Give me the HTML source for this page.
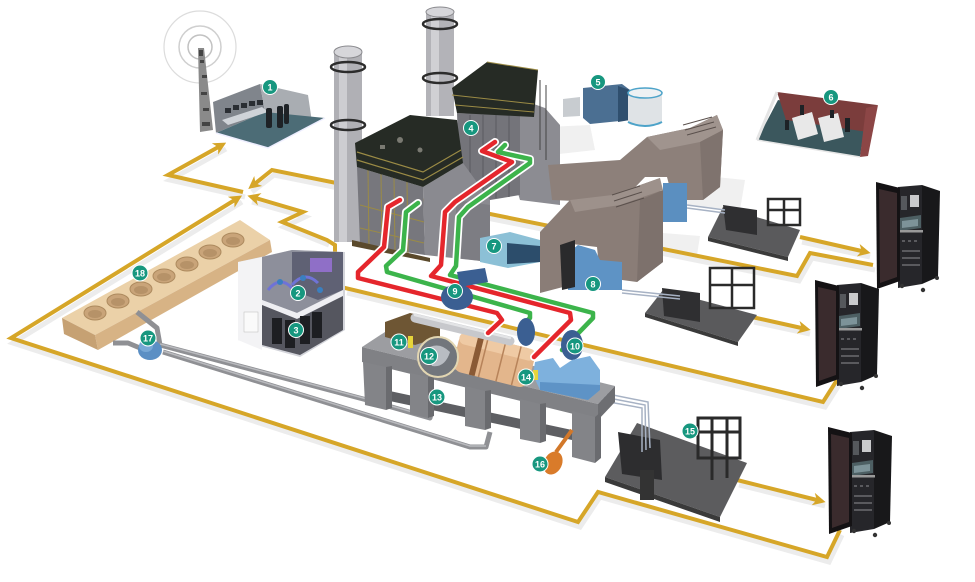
<!DOCTYPE html>
<html><head><meta charset="utf-8">
<style>
html,body{margin:0;padding:0;background:#fff;}
svg{display:block;}
.b circle{fill:#17977f;stroke:#fff;stroke-width:1}
.b text{fill:#fff;font-family:"Liberation Sans",sans-serif;font-size:9px;font-weight:bold;text-anchor:middle}
</style></head><body>
<svg width="975" height="582" viewBox="0 0 975 582" xmlns="http://www.w3.org/2000/svg">
<defs>
<marker id="ar" markerWidth="3.2" markerHeight="3.2" refX="2" refY="1.6" orient="auto" markerUnits="strokeWidth">
<path d="M0,0 L3.2,1.6 L0,3.2 L0.9,1.6 z" fill="#d6a628"/>
</marker>
<g id="cab">
<polygon points="922,185 940,191 938,277 922,284" fill="#18181a"/>
<polygon points="898,187 922,185 922,284 898,288" fill="#26262a"/>
<rect x="910" y="195" width="9" height="12" fill="#c9cacc"/>
<rect x="901" y="196" width="6" height="14" fill="#55585c"/>
<polygon points="900,218 921,215 921,228 900,231" fill="#4d5f63"/>
<polygon points="902,221 918,219 918,226 902,228" fill="#7d9399"/>
<rect x="878" y="230" width="45" height="2.5" fill="#9a9a9a"/>
<g fill="#5a5a5e"><rect x="902" y="240" width="3" height="2"/><rect x="908" y="240" width="3" height="2"/><rect x="914" y="240" width="3" height="2"/><rect x="902" y="250" width="18" height="2"/><rect x="902" y="257" width="18" height="2"/><rect x="902" y="264" width="18" height="2"/></g>
<polygon points="876,182 900,188 900,281 877,289" fill="#141214"/>
<polygon points="879,189 897,193 897,277 880,283" fill="#3a2b2d"/>
<circle cx="902" cy="286" r="2.2" fill="#333"/><circle cx="923" cy="290" r="2.2" fill="#333"/><circle cx="937" cy="278" r="2" fill="#333"/>
</g>
</defs>

<!-- ground shadows -->
<g fill="#f0f0f0">
<polygon points="547,127 590,125 595,150 550,155"/>
<polygon points="677,173 745,180 740,210 680,205"/>
<polygon points="663,233 700,236 697,255 663,252"/>
</g>

<!-- gold line shadows -->
<g fill="none" stroke="#ececec" stroke-width="5" transform="translate(2,5)">
<polyline points="243,192 168,175 224,144"/>
<polyline points="840,530 827,557 598,492 578,522 11,338 240,197"/>
<polyline points="873,265 810,253 797,276 272,170 250,187"/>
<polyline points="837,380 823,402 345,288"/>
<polyline points="327,240 282,222 303,212 250,197"/>
<polyline points="800,237 868,252"/>
<polyline points="752,317 808,329"/>
<polyline points="737,480 823,501"/>
</g>
<!-- gold lines -->
<g fill="none" stroke="#d6a628" stroke-width="4" stroke-linejoin="miter">
<polyline points="243,192 168,175 222,145" marker-end="url(#ar)"/>
<polyline points="840,530 827,557 598,492 578,522 11,338 238,198" marker-end="url(#ar)"/>
<polyline points="873,265 810,253 797,276 272,170 252,186" marker-end="url(#ar)"/>
<polyline points="837,380 823,402 345,288 335,283 335,245 327,240 282,222 303,212 252,197" marker-end="url(#ar)"/>
<polyline points="800,237 866,252" marker-end="url(#ar)"/>
<polyline points="752,317 806,329" marker-end="url(#ar)"/>
<polyline points="737,480 821,501" marker-end="url(#ar)"/>
</g>

<!-- antenna -->
<g fill="none">
<circle cx="200" cy="47" r="36" stroke="#dcdcdc" stroke-width="1.2"/>
<circle cx="200" cy="47" r="21" stroke="#cfcfcf" stroke-width="1.5"/>
<circle cx="200" cy="47" r="12" stroke="#c2c2c2" stroke-width="1.5"/>
</g>
<polygon points="198,48 204,48 213,130 200,132" fill="#8a8a8a"/>
<g fill="#444"><rect x="200" y="60" width="4" height="3"/><rect x="202" y="75" width="5" height="3"/><rect x="201" y="92" width="6" height="3"/><rect x="203" y="108" width="6" height="3"/><rect x="202" y="122" width="8" height="4"/><rect x="199" y="50" width="4" height="6"/></g>

<!-- control room 1 -->
<polygon points="213,102 260,84 265,112 216,133" fill="#80858c"/>
<polygon points="260,84 308,95 312,122 265,112" fill="#a9adb2"/>
<polygon points="216,133 265,112 325,118 268,148" fill="#4c6c76"/>
<polyline points="216,133 268,148 325,118" fill="none" stroke="#eef" stroke-width="1.5"/>
<g fill="#2a2e33"><rect x="225" y="108" width="6" height="5"/><rect x="233" y="105" width="6" height="5"/><rect x="241" y="103" width="6" height="5"/><rect x="249" y="101" width="6" height="5"/><rect x="257" y="100" width="6" height="5"/></g>
<polygon points="222,120 262,107 268,112 228,125" fill="#cfd3d8"/>
<g fill="#1e2226"><rect x="266" y="108" width="6" height="20" rx="2"/><rect x="277" y="106" width="6" height="22" rx="2"/><rect x="284" y="104" width="5" height="20" rx="2"/></g>

<!-- item 5 -->
<polygon points="563,99 580,97 580,116 563,117" fill="#c8ccd0"/>
<polygon points="583,88 622,84 630,90 630,120 590,124 583,118" fill="#4b6f92"/>
<polygon points="618,86 630,90 630,120 618,122" fill="#2f4f6e"/>
<rect x="628" y="93" width="34" height="32" rx="4" fill="#dfe3e6"/>
<ellipse cx="645" cy="93" rx="17" ry="5" fill="#eef1f3" stroke="#4da3c9" stroke-width="1.5"/>
<path d="M628,122 Q645,130 662,122" stroke="#4da3c9" stroke-width="2" fill="none"/>

<!-- room 6 -->
<polygon points="757,140 778,100 866,116 860,157" fill="#3b575d"/>
<polygon points="777,92 877,105 868,132 786,120" fill="#7b3d3c"/>
<polygon points="866,108 878,105 868,156 860,157" fill="#8c4646"/>
<line x1="757" y1="140" x2="777" y2="92" stroke="#e5e5e5" stroke-width="3"/>
<line x1="757" y1="140" x2="860" y2="157" stroke="#e5e5e5" stroke-width="1.5"/>
<polygon points="792,118 812,112 818,134 798,140" fill="#e8e8e8"/>
<polygon points="818,118 838,113 844,137 824,142" fill="#e8e8e8"/>
<g fill="#1d2226"><rect x="785" y="120" width="4" height="10"/><rect x="800" y="105" width="4" height="10"/><rect x="845" y="118" width="5" height="14"/><rect x="830" y="110" width="4" height="8"/></g>

<!-- ACC 18 -->
<polygon points="62,318 240,220 270,240 95,335" fill="#ebd1a8"/>
<polygon points="95,335 270,240 272,252 98,350" fill="#d7b385"/>
<polygon points="62,318 95,335 98,350 64,334" fill="#c6a173"/>
<g fill="#c9a479" stroke="#ad8a5e" stroke-width="1">
<ellipse cx="233" cy="240" rx="11" ry="7"/><ellipse cx="210" cy="252" rx="11" ry="7"/><ellipse cx="187" cy="264" rx="11" ry="7"/><ellipse cx="164" cy="276" rx="11" ry="7"/><ellipse cx="141" cy="289" rx="11" ry="7"/><ellipse cx="118" cy="301" rx="11" ry="7"/><ellipse cx="95" cy="313" rx="11" ry="7"/>
</g>
<g fill="#b69268">
<ellipse cx="233" cy="241" rx="7" ry="4"/><ellipse cx="210" cy="253" rx="7" ry="4"/><ellipse cx="187" cy="265" rx="7" ry="4"/><ellipse cx="164" cy="277" rx="7" ry="4"/><ellipse cx="141" cy="290" rx="7" ry="4"/><ellipse cx="118" cy="302" rx="7" ry="4"/><ellipse cx="95" cy="314" rx="7" ry="4"/>
</g>

<!-- condenser pipes -->
<g fill="none" stroke="#8f9094" stroke-width="5" stroke-linejoin="round">
<polyline points="137,312 157,328 160,345 367,400 430,418 433,405"/>
<polyline points="163,352 470,447 486,447 490,432"/>
<polyline points="113,343 128,343 140,348"/>
</g>
<g fill="none" stroke="#b9babe" stroke-width="1.5">
<polyline points="160,344 367,399 430,417"/>
<polyline points="163,351 470,446 486,446"/>
</g>
<ellipse cx="150" cy="350" rx="12" ry="10" fill="#5b8fc4"/>
<ellipse cx="146" cy="346" rx="7" ry="6" fill="#78a8d6"/>

<!-- building 2/3 -->
<polygon points="238,262 292,250 345,252 345,330 300,357 238,340" fill="#d3d4da"/>
<polygon points="238,262 262,257 262,350 238,340" fill="#f3f3f5"/>
<polygon points="262,257 292,250 343,252 343,290 297,313 262,300" fill="#8d8f9b"/>
<polygon points="292,252 343,252 343,290 318,300 292,290" fill="#5f6174"/>
<polygon points="262,300 297,313 343,290 343,296 297,319 262,305" fill="#eeeef2"/>
<polygon points="262,305 297,319 343,296 343,330 300,355 262,345" fill="#55565f"/>
<g fill="#1d1e22"><rect x="272" y="318" width="10" height="26"/><rect x="285" y="320" width="10" height="28"/><rect x="300" y="316" width="10" height="28"/><rect x="312" y="312" width="10" height="26"/></g>
<rect x="244" y="312" width="14" height="20" fill="#fafafa" stroke="#bbb" stroke-width="0.5"/>
<path d="M268,290 Q280,275 292,288" stroke="#6f73d6" stroke-width="3" fill="none"/><path d="M292,285 Q305,270 318,283" stroke="#6f73d6" stroke-width="3" fill="none"/>
<rect x="310" y="258" width="22" height="14" fill="#8f6fc7"/>
<g fill="#3a7fc0"><circle cx="280" cy="282" r="3"/><circle cx="303" cy="278" r="3"/><circle cx="320" cy="290" r="3"/></g>

<!-- right HRSG -->
<rect x="426" y="12" width="28" height="104" fill="#b3b3b8"/>
<rect x="431" y="12" width="8" height="104" fill="#d0d0d4"/>
<ellipse cx="440" cy="12" rx="14" ry="5" fill="#d6d6da" stroke="#8a8a8e" stroke-width="1"/>
<ellipse cx="440" cy="24" rx="17" ry="5" fill="none" stroke="#2c2c2c" stroke-width="2.5"/>
<ellipse cx="440" cy="78" rx="17" ry="5" fill="none" stroke="#2c2c2c" stroke-width="2.5"/>
<polygon points="517,98 545,108 560,125 560,205 520,200 517,190" fill="#8c8c92"/>
<polygon points="457,113 520,115 520,195 460,205" fill="#74747a"/>
<g stroke="#5a5a60" stroke-width="1"><line x1="470" y1="115" x2="470" y2="202"/><line x1="483" y1="115" x2="483" y2="200"/><line x1="496" y1="115" x2="496" y2="198"/><line x1="509" y1="115" x2="509" y2="197"/></g>
<polygon points="452,88 487,62 538,70 534,117 457,113" fill="#262b25"/>
<g stroke="#9b8b45" stroke-width="1" fill="none"><polyline points="452,95 534,104"/><polyline points="455,105 534,112"/><polyline points="487,62 538,70"/></g>
<g stroke="#444" stroke-width="1"><line x1="540" y1="80" x2="540" y2="150"/><line x1="546" y1="85" x2="546" y2="160"/></g>

<!-- left HRSG -->
<rect x="334" y="52" width="28" height="190" fill="#b0b0b5"/>
<rect x="339" y="52" width="8" height="190" fill="#cdcdd1"/>
<ellipse cx="348" cy="52" rx="14" ry="6" fill="#d6d6da" stroke="#8a8a8e" stroke-width="1"/>
<ellipse cx="348" cy="67" rx="17" ry="5" fill="none" stroke="#2c2c2c" stroke-width="2.5"/>
<ellipse cx="348" cy="125" rx="17" ry="5" fill="none" stroke="#2c2c2c" stroke-width="2.5"/>
<polygon points="423,187 463,163 490,200 490,262 425,255" fill="#8a8a90"/>
<polygon points="357,167 423,187 425,255 360,245" fill="#77777d"/>
<g stroke="#9b8b45" stroke-width="1"><line x1="368" y1="170" x2="369" y2="247"/><line x1="381" y1="174" x2="382" y2="249"/><line x1="394" y1="178" x2="395" y2="251"/><line x1="407" y1="182" x2="408" y2="253"/><line x1="360" y1="205" x2="424" y2="222"/><line x1="360" y1="228" x2="424" y2="243"/></g>
<polygon points="355,143 410,115 457,120 463,163 423,187 357,167" fill="#262b25"/>
<g stroke="#9b8b45" stroke-width="1.2" fill="none"><polyline points="357,160 423,180 463,157"/><polyline points="357,152 423,172 461,150"/></g>
<g fill="#7a7a72"><circle cx="400" cy="140" r="3"/><circle cx="420" cy="150" r="2.5"/><rect x="380" y="145" width="5" height="4"/></g>
<polygon points="352,240 430,258 430,262 352,246" fill="#5b4a2c"/>
<polygon points="456,200 490,205 490,262 456,258" fill="#7d7d83"/>

<!-- ducting -->
<polygon points="548,165 620,160 647,137 690,128 717,115 723,130 720,187 703,200 673,200 667,177 645,177 620,203 552,200" fill="#8d807a"/>
<polygon points="647,137 690,128 717,115 723,130 700,142 660,150" fill="#a0948e"/>
<polygon points="700,142 723,130 720,187 703,200" fill="#7f736e"/>
<g stroke="#5a504c" stroke-width="1"><line x1="683" y1="125" x2="712" y2="117"/><line x1="685" y1="130" x2="714" y2="122"/><line x1="687" y1="135" x2="716" y2="127"/></g>
<polygon points="663,183 687,183 687,222 663,222" fill="#5b8fc0"/>
<polygon points="540,232 570,200 612,195 660,178 663,262 637,282 600,277 597,247 572,244 563,287 540,293" fill="#8a7d77"/>
<polygon points="570,200 612,195 660,178 663,190 620,205 575,212" fill="#9d918b"/>
<polygon points="640,200 663,190 663,262 637,282" fill="#7d716c"/>
<g stroke="#5a504c" stroke-width="1"><line x1="612" y1="195" x2="640" y2="186"/><line x1="614" y1="201" x2="642" y2="192"/><line x1="616" y1="207" x2="644" y2="198"/></g>
<polygon points="568,253 578,245 595,250 600,260 622,262 622,290 568,290" fill="#5e93c5"/>
<polygon points="560,245 575,240 575,287 562,290" fill="#2a2a2c"/>
<!-- item 7 -->
<polygon points="480,238 510,232 540,240 540,262 508,268 480,262" fill="#8cc0d6"/>
<polygon points="507,243 540,246 540,262 507,264" fill="#2c4d6b"/>

<!-- transformers -->
<polygon points="708,237 723,207 800,230 788,257" fill="#5a5a5c"/>
<polygon points="708,237 788,257 788,261 708,241" fill="#3a3a3a"/>
<polygon points="723,205 757,210 757,235 726,230" fill="#2f2f31"/>
<g stroke="#2a2a2a" stroke-width="2.5" fill="none"><rect x="768" y="199" width="32" height="26"/><line x1="768" y1="210" x2="800" y2="210"/><line x1="784" y1="199" x2="784" y2="225"/></g>
<polygon points="645,313 663,290 757,315 738,342" fill="#5a5a5c"/>
<polygon points="645,313 738,342 738,346 645,317" fill="#3a3a3a"/>
<polygon points="662,288 700,293 700,322 664,316" fill="#2f2f31"/>
<g stroke="#2a2a2a" stroke-width="2.5" fill="none"><rect x="710" y="268" width="44" height="40"/><line x1="710" y1="285" x2="754" y2="285"/><line x1="732" y1="268" x2="732" y2="308"/></g>
<polygon points="605,477 637,423 747,463 720,517" fill="#5c5c5e"/>
<polygon points="605,477 720,517 720,522 605,482" fill="#3a3a3a"/>
<polygon points="618,432 660,440 662,480 622,474" fill="#2d2d2f"/>
<rect x="640" y="470" width="14" height="30" fill="#333"/>
<g stroke="#2a2a2a" stroke-width="3" fill="none"><rect x="698" y="418" width="42" height="40"/><line x1="698" y1="432" x2="740" y2="432"/><line x1="712" y1="418" x2="712" y2="480"/><line x1="727" y1="418" x2="727" y2="478"/></g>
<g stroke="#a7b2c4" stroke-width="1.5" fill="none">
<polyline points="598,392 648,402 650,448"/><polyline points="598,396 645,405 646,450"/><polyline points="598,400 642,408 642,452"/>
<line x1="622" y1="290" x2="680" y2="296"/><line x1="622" y1="293" x2="680" y2="299"/>
<line x1="687" y1="205" x2="725" y2="210"/><line x1="687" y1="208" x2="725" y2="213"/>
</g>

<!-- turbine deck -->
<polygon points="385,390 572,430 572,440 385,400" fill="#5e5f63"/>
<polygon points="362,347 388,330 615,386 598,404" fill="#9c9da1"/>
<polygon points="362,347 598,404 598,420 362,362" fill="#808185"/>
<polygon points="598,404 615,386 615,402 598,420" fill="#6d6e72"/>
<g fill="#838488">
<polygon points="363,362 386,367 386,410 365,405"/>
<polygon points="410,373 428,377 428,418 410,414"/>
<polygon points="465,386 485,391 485,430 465,426"/>
<polygon points="520,399 540,404 540,443 520,439"/>
<polygon points="572,411 595,417 595,463 572,457"/>
</g>
<g fill="#6a6b6f">
<polygon points="386,367 392,366 392,408 386,410"/>
<polygon points="428,377 434,376 434,416 428,418"/>
<polygon points="485,391 491,390 491,428 485,430"/>
<polygon points="540,404 546,403 546,441 540,443"/>
<polygon points="595,417 601,412 601,458 595,463"/>
</g>
<polygon points="385,322 410,313 440,320 440,337 415,345 385,337" fill="#6e5634"/>
<g transform="translate(493,360) rotate(14)">
<rect x="-38" y="-20" width="78" height="40" rx="10" fill="#e3b68c"/>
<rect x="-38" y="-20" width="78" height="12" rx="6" fill="#efcaa4"/>
<g stroke="#b7835a" stroke-width="1.5"><line x1="-10" y1="-20" x2="-10" y2="20"/><line x1="8" y1="-20" x2="8" y2="20"/><line x1="24" y1="-20" x2="24" y2="20"/></g>
<rect x="-20" y="-20" width="6" height="40" fill="#8a5a35"/>
</g>
<line x1="415" y1="318" x2="510" y2="341" stroke="#c7c8cc" stroke-width="9" stroke-linecap="round"/>
<line x1="415" y1="315" x2="510" y2="338" stroke="#e3e4e6" stroke-width="2.5" stroke-linecap="round"/>
<circle cx="438" cy="357" r="20" fill="#72767c" stroke="#e2d6b2" stroke-width="2"/>
<path d="M425,350 Q438,340 450,352 Q445,368 432,366 Z" fill="#b8bcc2"/>
<rect x="408" y="336" width="5" height="12" fill="#e6d43a"/>

<!-- steam pipes -->
<g fill="none" stroke="#ffffff" stroke-width="8" stroke-linejoin="round" stroke-linecap="round">
<polyline points="400,200 388,207 384,247 358,272 358,278 497,313 502,320 488,333"/>
<polyline points="418,203 406,212 403,250 386,266 387,272 530,313 530,318 522,325"/>
<polyline points="495,142 482,151 512,162 455,202 445,212 441,265 431,276 570,313 571,320 534,357"/>
<polyline points="505,145 498,152 530,159 530,163 468,207 459,217 456,266 450,275 593,313 593,318 562,350"/>
</g>
<g fill="none" stroke-width="4.5" stroke-linejoin="round" stroke-linecap="round">
<polyline stroke="#e5262c" points="400,200 388,207 384,247 358,272 358,278 497,313 502,320 488,333"/>
<polyline stroke="#3cb44b" points="418,203 406,212 403,250 386,266 387,272 530,313 530,318 522,325"/>
<polyline stroke="#e5262c" points="495,142 482,151 512,162 455,202 445,212 441,265 431,276 570,313 571,320 534,357"/>
<polyline stroke="#3cb44b" points="505,145 498,152 530,159 530,163 468,207 459,217 456,266 450,275 593,313 593,318 562,350"/>
</g>

<!-- pumps & generator -->
<polygon points="457,272 485,268 488,282 460,287" fill="#3b5f92"/>
<ellipse cx="457" cy="297" rx="16" ry="13" fill="#3b5f92"/>
<ellipse cx="526" cy="332" rx="9" ry="14" fill="#3b5f92"/>
<ellipse cx="572" cy="345" rx="11" ry="15" fill="#3b5f92"/>
<polygon points="535,362 553,358 560,368 572,360 590,356 600,370 600,390 588,400 540,390 533,375" fill="#7eb1dd"/>
<polygon points="540,382 600,385 600,390 588,400 540,390" fill="#5e93c6"/>
<rect x="533" y="370" width="5" height="10" fill="#e6d43a"/>
<!-- item 16 -->
<line x1="572" y1="430" x2="556" y2="452" stroke="#d2782a" stroke-width="4"/>
<ellipse cx="553" cy="463" rx="9" ry="12" fill="#d97b2a" transform="rotate(25 553 463)"/>

<!-- cabinets -->
<use href="#cab"/>
<use href="#cab" transform="translate(-61,98)"/>
<use href="#cab" transform="translate(-48,245)"/>

<!-- badges -->
<g class="b">
<circle cx="270" cy="87" r="7.5"/><text x="270" y="90.5">1</text>
<circle cx="298" cy="293" r="7.5"/><text x="298" y="296.5">2</text>
<circle cx="296" cy="330" r="7.5"/><text x="296" y="333.5">3</text>
<circle cx="471" cy="128" r="7.5"/><text x="471" y="131.5">4</text>
<circle cx="598" cy="82" r="7.5"/><text x="598" y="85.5">5</text>
<circle cx="831" cy="97" r="7.5"/><text x="831" y="100.5">6</text>
<circle cx="494" cy="246" r="7.5"/><text x="494" y="249.5">7</text>
<circle cx="593" cy="284" r="7.5"/><text x="593" y="287.5">8</text>
<circle cx="455" cy="291" r="7.5"/><text x="455" y="294.5">9</text>
<circle cx="575" cy="346" r="8"/><text x="575" y="349.5">10</text>
<circle cx="399" cy="342" r="8"/><text x="399" y="345.5">11</text>
<circle cx="429" cy="356" r="8.5"/><text x="429" y="359.5">12</text>
<circle cx="437" cy="397" r="8"/><text x="437" y="400.5">13</text>
<circle cx="526" cy="377" r="8"/><text x="526" y="380.5">14</text>
<circle cx="690" cy="431" r="8"/><text x="690" y="434.5">15</text>
<circle cx="540" cy="464" r="8"/><text x="540" y="467.5">16</text>
<circle cx="148" cy="338" r="8"/><text x="148" y="341.5">17</text>
<circle cx="140" cy="273" r="8"/><text x="140" y="276.5">18</text>
</g>
</svg>
</body></html>
